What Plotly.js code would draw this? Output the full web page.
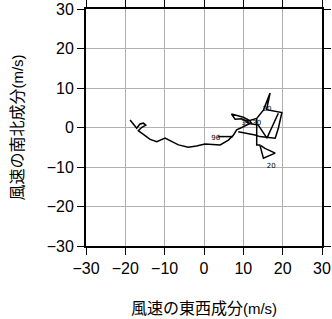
<!DOCTYPE html>
<html>
<head>
<meta charset="utf-8">
<script src="https://cdn.plot.ly/plotly-3.0.1.min.js"></script>
<style>html,body{margin:0;padding:0;background:#fff;}#chart{width:332px;height:319px;}</style>
</head>
<body>
<div id="chart"></div>
<script>
// Hodograph: wind u (east-west) and v (north-south) components, m/s
const windU = [-18.8, -17.1, -16.3, -15.4, -14.8, -15.8, -16.7, -13.7, -12.0, -9.9, -6.5, -4.0, -1.9, 0.25, 4.1, 6.2, 7.5, 8.3, 9.6, 11.0, 12.0,
               11.5, 10.0, 7.0, 7.9, 9.5, 11.0, 13.4, 15.1, 16.8, 15.9, 19.8, 18.9, 18.1, 14.2, 13.0, 8.7,
               null, 18.9, 16.0, 13.8, 11.7, 10.5,
               null, 13.4, 13.4, 14.2, 15.1, 18.1, 15.5, 14.5,
               null, 3.6, 7.4];
const windV = [1.9, -0.2, 0.9, 1.1, 0.6, 0.05, -0.8, -3.0, -3.6, -2.7, -4.4, -5.0, -4.7, -4.2, -4.4, -3.2, -1.9, -0.6, 0.0, 0.6, 1.2,
               1.8, 2.6, 3.4, 2.1, 2.2, 1.6, 2.3, 4.4, 8.7, 4.5, 3.8, -0.2, -2.7, -2.3, -1.9, -1.1,
               null, 3.6, -2.7, 0.6, 1.0, 1.5,
               null, 2.3, -4.4, -4.4, -7.8, -6.5, -5.3, -4.6,
               null, -2.3, -2.3];
const labelU = [3.0, 12.0, 16.0, 17.1];
const labelV = [-2.6, 1.2, 4.6, -9.7];
const labelText = ['96', '31.30', '20', '20'];
const tickVals = [-30, -20, -10, 0, 10, 20, 30];
const tickText = ['\u221230', '\u221220', '\u221210', '0', '10', '20', '30'];

const axisCommon = {
  range: [-30, 30],
  tickvals: tickVals,
  ticktext: tickText,
  ticks: 'outside',
  ticklen: 7,
  tickwidth: 1,
  tickcolor: '#000',
  showline: true,
  linecolor: '#000',
  linewidth: 2,
  mirror: 'ticks',
  showgrid: true,
  gridcolor: '#b0b0b0',
  gridwidth: 1,
  zeroline: false,
  tickfont: {family: 'Liberation Sans, Arial, sans-serif', size: 16, color: '#000'},
  fixedrange: true
};

const data = [
  {x: windU, y: windV, mode: 'lines', type: 'scatter', connectgaps: false,
   line: {color: '#000', width: 1.5}, hoverinfo: 'skip'},
  {x: labelU, y: labelV, mode: 'text', type: 'scatter', text: labelText,
   textfont: {family: 'DejaVu Sans, sans-serif', size: 7, color: '#000000'}, hoverinfo: 'skip'}
];

const layout = {
  width: 332, height: 319,
  margin: {l: 86, r: 10, t: 9, b: 73},
  paper_bgcolor: '#fff', plot_bgcolor: '#fff',
  showlegend: false,
  xaxis: Object.assign({}, axisCommon, {
    title: {text: '風速の東西成分<span style="font-family:Liberation Sans;font-size:15px">(m/s)</span>',
            font: {family: 'Noto Sans CJK JP, sans-serif', size: 16, color: '#000'}, standoff: 28}
  }),
  yaxis: Object.assign({}, axisCommon, {
    title: {text: '風速の南北成分<span style="font-family:Liberation Sans;font-size:15px">(m/s)</span>',
            font: {family: 'Noto Sans CJK JP, sans-serif', size: 16, color: '#000'}, standoff: 19}
  })
};

Plotly.newPlot('chart', data, layout, {staticPlot: true, displayModeBar: false});
</script>
</body>
</html>
